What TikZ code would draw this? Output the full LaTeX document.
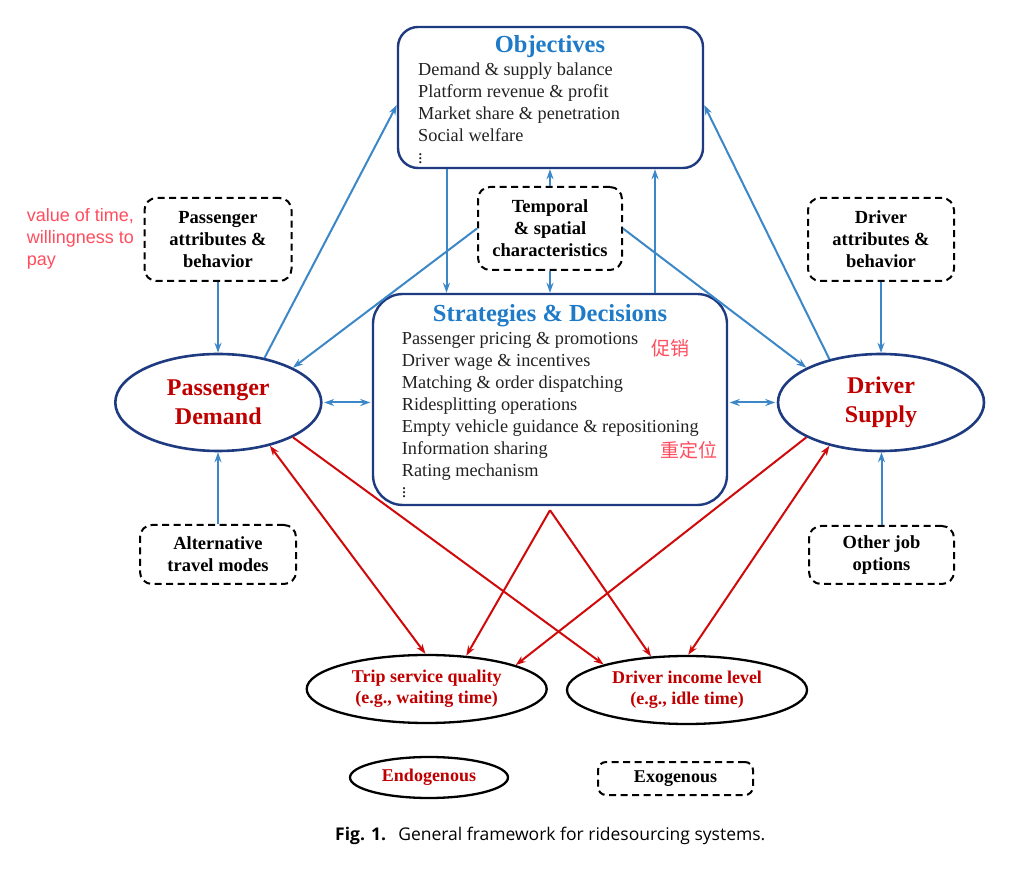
\documentclass[tikz,border=0pt]{standalone}
\usepackage{fontspec}
\setmainfont{Liberation Serif}
\newfontfamily\annfont{Liberation Sans}
\newfontfamily\cjkfont{Noto Sans CJK SC}
\newfontfamily\capfont{Open Sans}
\usetikzlibrary{shapes.geometric,arrows.meta,calc}
\definecolor{navy}{HTML}{1E3A80}
\definecolor{lblue}{HTML}{3B87C7}
\definecolor{tblue}{HTML}{1F7BC8}
\definecolor{dred}{HTML}{C00000}
\definecolor{lred}{HTML}{D00A0A}
\definecolor{notepink}{HTML}{FF4D5E}
\definecolor{itemgray}{HTML}{222222}
\newcommand{\smallvdots}{\vbox{\baselineskip4pt\lineskiplimit0pt\hbox{.}\hbox{.}\hbox{.}}}
\begin{document}
\begin{tikzpicture}[x=1pt,y=1pt,
  bigbox/.style={draw=navy,line width=2.4pt,inner sep=0pt},
  dbox/.style={draw=black,line width=2pt,dash pattern=on 7pt off 4.5pt,rounded corners=12pt,inner sep=0pt,align=center,font=\bfseries\fontsize{18.5}{22}\selectfont},
  mainell/.style={ellipse,draw=navy,line width=2.6pt,inner sep=0pt,align=center,text=dred,font=\bfseries\fontsize{24}{29}\selectfont,minimum width=206pt,minimum height=97pt},
  outell/.style={ellipse,draw=black,line width=2.3pt,inner sep=0pt,align=center,text=dred,font=\bfseries\fontsize{18}{21}\selectfont},
  titletext/.style={text=tblue,font=\bfseries\fontsize{24.5}{28}\selectfont,anchor=base,inner sep=0pt},
  itemtext/.style={text=itemgray,font=\fontsize{18.3}{22}\selectfont,anchor=base west,inner sep=0pt},
  tipb/.tip={Stealth[length=10pt,width=7pt]},
  barrow/.style={draw=lblue,line width=2pt,-tipb},
  bdarrow/.style={draw=lblue,line width=2pt,tipb-tipb},
  rarrow/.style={draw=lred,line width=2pt,-tipb},
  rdarrow/.style={draw=lred,line width=2pt,tipb-tipb},
  note/.style={text=notepink,inner sep=0pt}
]
\useasboundingbox (0,0) rectangle (1009,881);
\fill[white] (0,0) rectangle (1009,881);

% Objectives
\node[bigbox,rounded corners=20pt,minimum width=305pt,minimum height=141pt] (obj) at (550.5,783.5) {};
\node[titletext] (objt) at (550,828) {Objectives};
\node[itemtext] (o1) at (418,805) {Demand \& supply balance};
\node[itemtext] (o2) at (418,783) {Platform revenue \& profit};
\node[itemtext] (o3) at (418,761) {Market share \& penetration};
\node[itemtext] (o4) at (418,739) {Social welfare};
\node[itemtext] (o5) at (418,717) {\smallvdots};

% Strategies
\node[bigbox,rounded corners=30pt,minimum width=354pt,minimum height=211pt] (str) at (550,481.5) {};
\node[titletext] (strt) at (550,559) {Strategies \& Decisions};
\node[itemtext] (s1) at (401.7,536) {Passenger pricing \& promotions};
\node[itemtext] (s2) at (401.7,514) {Driver wage \& incentives};
\node[itemtext] (s3) at (401.7,492) {Matching \& order dispatching};
\node[itemtext] (s4) at (401.7,470) {Ridesplitting operations};
\node[itemtext] (s5) at (401.7,448) {Empty vehicle guidance \& repositioning};
\node[itemtext] (s6) at (401.7,426) {Information sharing};
\node[itemtext] (s7) at (401.7,404) {Rating mechanism};
\node[itemtext] (s8) at (401.7,383) {\smallvdots};

% dashed boxes
\node[dbox,minimum width=144pt,minimum height=83pt] (tmp) at (550,652.5) {Temporal\\ \& spatial\\ characteristics};
\node[dbox,minimum width=147pt,minimum height=83pt] (pa) at (218,641.5) {Passenger\\ attributes \&\\ behavior};
\node[dbox,minimum width=146pt,minimum height=83pt] (da) at (881,641.5) {Driver\\ attributes \&\\ behavior};
\node[dbox,minimum width=156pt,minimum height=59pt] (alt) at (218,326.5) {Alternative\\ travel modes};
\node[dbox,minimum width=145pt,minimum height=58pt] (oj) at (881.5,326) {Other job\\ options};

% ellipses
\node[mainell] (pd) at (218.3,478.5) {Passenger\\ Demand};
\node[mainell] (ds) at (881,478.5) {Driver\\ Supply};
\node[outell,minimum width=240pt,minimum height=68pt] (tsq) at (426.7,192) {Trip service quality\\ (e.g., waiting time)};
\node[outell,minimum width=240pt,minimum height=68pt] (dil) at (687,191) {Driver income level\\ (e.g., idle time)};

% legend
\node[outell,minimum width=158pt,minimum height=41pt] (endo) at (429,103.5) {Endogenous};
\node[dbox,font=\bfseries\fontsize{18}{21}\selectfont,rounded corners=8pt,minimum width=155pt,minimum height=33pt] (exo) at (675.5,102.5) {Exogenous};

% blue connectors
\draw[barrow] (pd.44) -- ([yshift=-7.5pt]obj.west);
\draw[barrow] (ds.140) -- ([yshift=-7.5pt]obj.east);
\draw[barrow] ([xshift=-104pt]obj.south) -- ([xshift=-104pt]obj.south |- str.north);
\draw[barrow] ([xshift=105pt]str.north) -- ([xshift=105pt]str.north |- obj.south);
\draw[barrow] (tmp.north) -- (tmp.north |- obj.south);
\draw[barrow] (tmp.south) -- (tmp.south |- str.north);
\draw[barrow] (tmp.west) -- (pd.25);
\draw[barrow] (tmp.east) -- (ds.155);
\draw[barrow] (pa.south) -- (pa.south |- pd.north);
\draw[barrow] (alt.north) -- (alt.north |- pd.south);
\draw[barrow] (da.south) -- (da.south |- ds.north);
\draw[barrow] (oj.north) -- (oj.north |- ds.south);
\draw[bdarrow,shorten <=1.5pt,shorten >=1.5pt] (pd.east) -- (pd.east -| str.west);
\draw[bdarrow,shorten <=1.5pt,shorten >=1.5pt] (ds.west -| str.east) -- (ds.west);

% red connectors
\coordinate (apex) at ([yshift=-4pt]str.south);
\draw[rdarrow] (pd.-40) -- (tsq.92);
\draw[rarrow] (pd.-25) -- (dil.163);
\draw[rarrow] (apex) -- (tsq.40);
\draw[rarrow] (apex) -- (dil.137);
\draw[rarrow] (ds.205) -- (tsq.15);
\draw[rdarrow] (ds.220) -- (dil.88);

% annotations
\node[note,anchor=base west,font=\annfont\fontsize{18}{22}\selectfont] (ann1) at (26.7,659) {value of time,};
\node[note,anchor=base west,font=\annfont\fontsize{18}{22}\selectfont] (ann2) at (26.7,637) {willingness to};
\node[note,anchor=base west,font=\annfont\fontsize{18}{22}\selectfont] (ann3) at (26.7,615) {pay};
\node[note,font=\cjkfont\fontsize{19}{22}\selectfont] (cn1) at (670,533) {促销};
\node[note,font=\cjkfont\fontsize{19}{22}\selectfont] (cn2) at (688.5,431) {重定位};

% caption
\node[anchor=base west,inner sep=0pt,font=\capfont\fontsize{17.5}{20}\selectfont] (cap) at (335,41) {\textbf{Fig. 1.}\hspace{0.7em}General framework for ridesourcing systems.};
\end{tikzpicture}
\end{document}
